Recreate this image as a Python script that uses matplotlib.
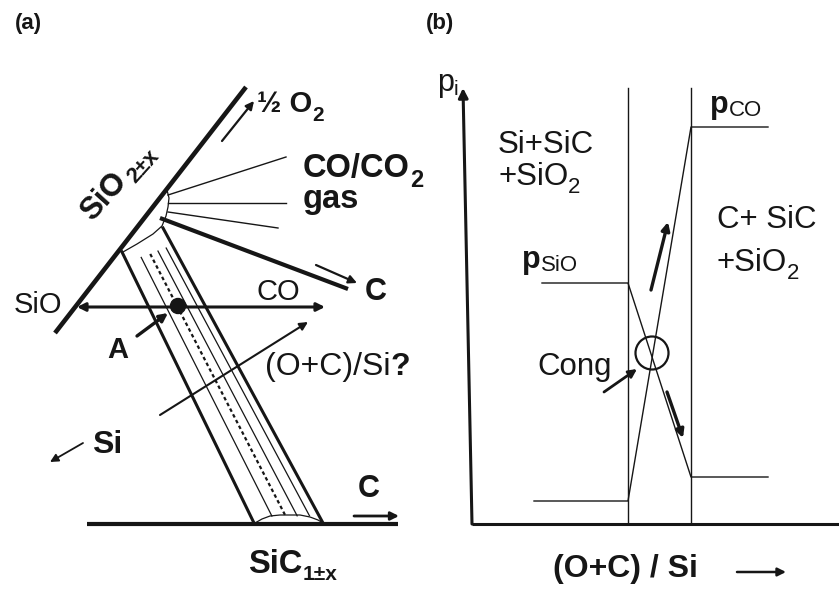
import numpy as np
import matplotlib
matplotlib.use("Agg")
import matplotlib.pyplot as plt
from matplotlib.patches import Circle

plt.rcParams['font.family'] = ['Liberation Sans', 'DejaVu Sans']

# ---- panel (a): the growing crystal between SiO2 and SiC (pixel frame) ----
sio2_x = [55, 246]
sio2_y = [333, 87]
base_x = [87, 398]
base_y = [524, 524]
rod_left_x = [122, 254]
rod_left_y = [252, 523]
rod_right_x = [163, 323]
rod_right_y = [228, 523]
inner_frac = [0.31, 0.51, 0.68, 0.86]
inner_dashed = [False, True, False, False]
cap_top_x = [123, 137, 153, 162, 166, 168, 169, 167]
cap_top_y = [252, 244, 234, 226, 216, 207, 198, 190]
cap_bot_x = [255, 262, 270, 280, 300, 310, 318, 323]
cap_bot_y = [523, 519, 516, 515, 515, 517, 520, 523]
gas_x0 = [168, 168, 168]
gas_y0 = [195, 203, 212]
gas_x1 = [286, 286, 278]
gas_y1 = [157, 203, 228]
cline_x = [160, 348]
cline_y = [218, 289]
dot_xy = (178, 306)

# arrows: (tail x, tail y, tip x, tip y, linewidth)
arrows_a = [
    (222, 141, 254, 101, 1.6),
    (316, 265, 357, 283, 1.6),
    (137, 336, 168, 313, 2.4),
    (160, 415, 308, 322, 1.5),
    (83, 443, 50, 462, 1.3),
    (354, 516, 399, 516, 2.0),
]
double_arrow = (77, 307, 325, 307)

# ---- panel (b): partial pressures vs (O+C)/Si ----
yaxis_x = [472, 463]
yaxis_y = [524, 88]
xaxis_x = [472, 845]
xaxis_y = [524, 524]
phase_bounds = [628, 691]
bound_top = 88
p_sio_x = [542, 628, 691, 768]
p_sio_y = [283, 283, 477, 477]
p_co_x = [534, 628, 691, 768]
p_co_y = [501, 501, 127, 127]
cong_xy = (652, 353)
arrows_b = [
    (651, 290, 668, 222, 2.4),
    (667, 392, 683, 438, 2.4),
    (604, 392, 637, 369, 2.0),
    (737, 572, 786, 572, 1.8),
]

INK = '#161616'

fig = plt.figure(figsize=(8.39, 5.92), dpi=100)
ax = fig.add_axes([0, 0, 1, 1])
ax.set_xlim(0, 839)
ax.set_ylim(592, 0)
ax.axis('off')
renderer = fig.canvas.get_renderer()


def arrow(x0, y0, x1, y1, lw, style='-|>', ms=12):
    ax.annotate('', xy=(x1, y1), xytext=(x0, y0),
                arrowprops=dict(arrowstyle=style, lw=lw, color=INK,
                                mutation_scale=ms, shrinkA=0, shrinkB=0))


def label(x, y, main, sub=None, size=20, bold=True, subbold=None, subsize=None,
          drop=0.3, gap=0):
    w = 'bold' if bold else 'normal'
    t = ax.text(x, y, main, fontsize=size, fontweight=w, color=INK,
                ha='left', va='baseline')
    bb = t.get_window_extent(renderer)
    x2 = x + bb.width + gap
    if sub is not None:
        if subbold is None:
            subbold = bold
        ss = subsize if subsize else size * 0.7
        ax.text(x2, y + size * drop * 1.389, sub, fontsize=ss,
                fontweight='bold' if subbold else 'normal', color=INK,
                ha='left', va='baseline')
    return x2


# ---------------- panel (a) ----------------
ax.plot(sio2_x, sio2_y, color=INK, lw=3.3, solid_capstyle='butt')
ax.plot(base_x, base_y, color=INK, lw=3.0, solid_capstyle='butt')
ax.plot(rod_left_x, rod_left_y, color=INK, lw=2.2)
ax.plot(rod_right_x, rod_right_y, color=INK, lw=2.2)
L0 = np.array([rod_left_x[0], rod_left_y[0]])
L1 = np.array([rod_left_x[1], rod_left_y[1]])
R0 = np.array([rod_right_x[0], rod_right_y[0]])
R1 = np.array([rod_right_x[1], rod_right_y[1]])
for f, dashed in zip(inner_frac, inner_dashed):
    t0, t1 = 0.04 + 0.02 * f, 0.975
    p0 = (1 - f) * (L0 + t0 * (L1 - L0)) + f * (R0 + t0 * (R1 - R0))
    p1 = (1 - f) * (L0 + t1 * (L1 - L0)) + f * (R0 + t1 * (R1 - R0))
    if dashed:
        ax.plot([p0[0], p1[0]], [p0[1], p1[1]], color=INK, lw=1.6,
                ls=(0, (1.6, 1.3)))
    else:
        ax.plot([p0[0], p1[0]], [p0[1], p1[1]], color=INK, lw=0.9)
ax.plot(cap_top_x, cap_top_y, color=INK, lw=0.9)
ax.plot(cap_bot_x, cap_bot_y, color=INK, lw=0.9)
for x0, y0, x1, y1 in zip(gas_x0, gas_y0, gas_x1, gas_y1):
    ax.plot([x0, x1], [y0, y1], color=INK, lw=1.0)
ax.plot(cline_x, cline_y, color=INK, lw=3.0, solid_capstyle='butt')
ax.add_patch(Circle(dot_xy, 7.5, color=INK))

for x0, y0, x1, y1, lw in arrows_a:
    arrow(x0, y0, x1, y1, lw)
dx0, dy0, dx1, dy1 = double_arrow
arrow(dx0, dy0, dx1, dy1, 2.2, style='<|-|>', ms=12)

ax.text(28, 24, '(a)', fontsize=16, fontweight='bold', color=INK,
        ha='center', va='center')
label(257, 112, '\u00bd O', '2', size=21, subsize=15)

# rotated SiO2±x along the oxide line
ang = 48
u = np.array([np.cos(np.radians(ang)), -np.sin(np.radians(ang))])
n = np.array([np.sin(np.radians(ang)), np.cos(np.radians(ang))])
s0 = np.array([92.0, 222.0])
ax.text(s0[0], s0[1], 'SiO', fontsize=22.5, fontweight='bold', color=INK,
        rotation=ang, rotation_mode='anchor', ha='left', va='baseline')
t_un = ax.text(0, 0, 'SiO', fontsize=22.5, fontweight='bold')
wsio = t_un.get_window_extent(renderer).width
t_un.remove()
s1 = s0 + u * (wsio + 3) + n * 7
ax.text(s1[0], s1[1], '2\u00b1x', fontsize=16, fontweight='bold', color=INK,
        rotation=ang, rotation_mode='anchor', ha='left', va='baseline')

label(303, 177, 'CO/CO', '2', size=23.5, subsize=17)
label(303, 208, 'gas', size=23.5)
label(365, 300, 'C', size=22)
label(14, 313, 'SiO', size=21, bold=False)
label(256, 300, 'CO', size=21, bold=False)
label(107, 358, 'A', size=21)
xq = label(265, 375, '(O+C)/Si', size=23, bold=False)
label(xq, 375, '?', size=23)
label(92, 453, 'Si', size=23)
label(358, 497, 'C', size=22)
label(248, 573, 'SiC', '1\u00b1x', size=23.5, subsize=15, drop=0.2)

# ---------------- panel (b) ----------------
ax.plot(xaxis_x, xaxis_y, color=INK, lw=2.2, solid_capstyle='butt')
arrow(yaxis_x[0], yaxis_y[0], yaxis_x[1], yaxis_y[1], 2.2, ms=14)
for xb in phase_bounds:
    ax.plot([xb, xb], [bound_top, xaxis_y[0]], color=INK, lw=1.0)
ax.plot(p_sio_x, p_sio_y, color=INK, lw=1.0)
ax.plot(p_co_x, p_co_y, color=INK, lw=1.0)
ax.add_patch(Circle(cong_xy, 16.5, fill=False, ec=INK, lw=1.6))
for x0, y0, x1, y1, lw in arrows_b:
    arrow(x0, y0, x1, y1, lw)

ax.text(440, 23, '(b)', fontsize=16, fontweight='bold', color=INK,
        ha='center', va='center')
label(437, 91, 'p', 'i', size=22, bold=False, subsize=15, drop=0.12)
label(498, 153, 'Si+SiC', size=22.5, bold=False)
label(498, 185, '+SiO', '2', size=22.5, bold=False, subsize=16, drop=0.25)
label(717, 228, 'C+ SiC', size=22.5, bold=False)
label(717, 271, '+SiO', '2', size=22.5, bold=False, subsize=16, drop=0.25)
label(522, 268, 'p', 'SiO', size=22, subbold=False, subsize=16, drop=0.1)
label(710, 113, 'p', 'CO', size=22, subbold=False, subsize=16, drop=0.1)
label(537, 375, 'Cong', size=22.5, bold=False)
label(553, 577, '(O+C) / Si', size=23)

fig.savefig('out.png', dpi=100)
